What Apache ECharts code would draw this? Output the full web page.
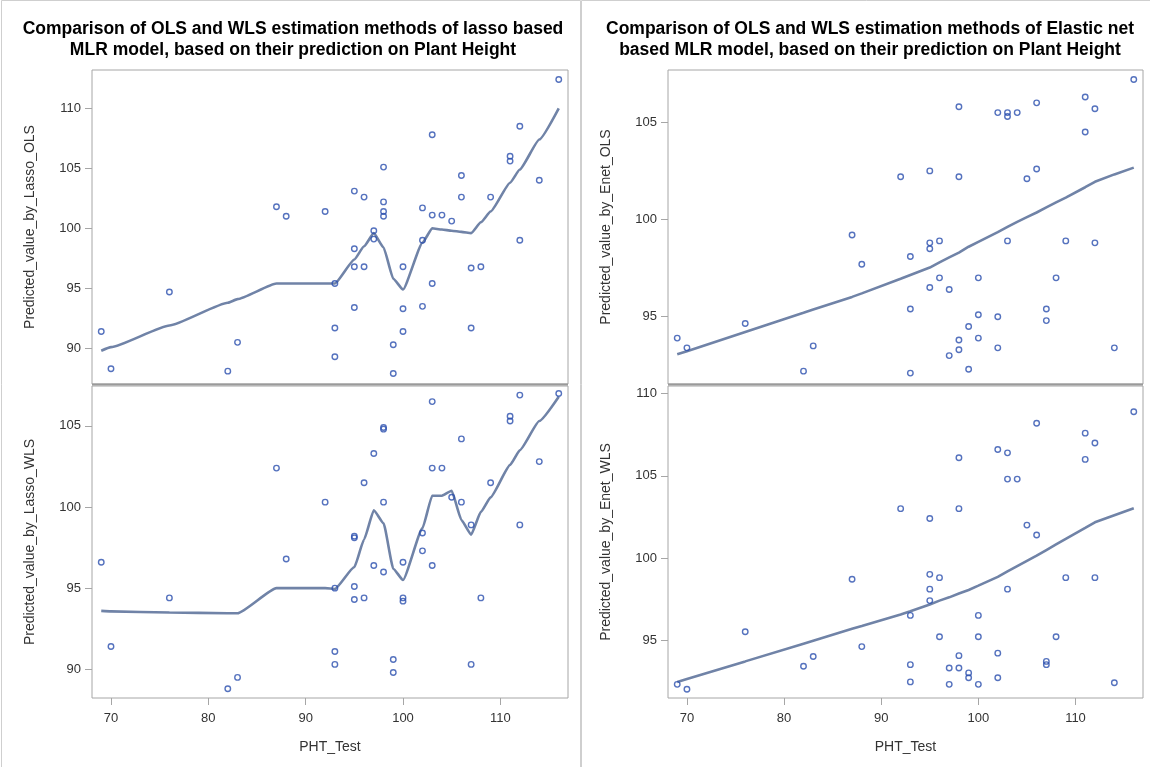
<!DOCTYPE html>
<html>
<head>
<meta charset="utf-8">
<script src="https://cdn.jsdelivr.net/npm/echarts@6/dist/echarts.min.js"></script>
<style>
  html, body { margin: 0; padding: 0; background: #ffffff; }
  #chart { width: 1150px; height: 767px; }
</style>
</head>
<body>
<div id="chart"></div>
<script>
// PHT_Test levels at which the fitted curves are evaluated
const fitX = [69, 70, 76, 82, 83, 87, 88, 92, 93, 95, 96, 97, 98, 99, 100, 102, 103, 104, 105, 106, 107, 108, 109, 111, 112, 114, 116];

// Fitted curves (one value per fitX level)
const lassoOlsFit = [89.8, 90.1, 91.9, 93.8, 94.1, 95.4, 95.4, 95.4, 95.4, 97.4, 98.5, 99.6, 98.4, 95.8, 94.9, 98.8, 100.0, 99.9, 99.8, 99.7, 99.6, 100.5, 101.4, 103.8, 104.9, 107.4, 110.0];
const lassoWlsFit = [93.6, 93.57, 93.5, 93.45, 93.45, 95.0, 95.0, 95.0, 94.95, 96.3, 98.0, 99.8, 99.0, 96.2, 95.5, 98.7, 100.7, 100.7, 101.0, 99.2, 98.3, 99.7, 100.6, 102.6, 103.5, 105.3, 106.8];
const enetOlsFit = [93.07, 93.23, 94.22, 95.2, 95.37, 96.02, 96.2, 96.95, 97.15, 97.53, 97.8, 98.05, 98.3, 98.6, 98.85, 99.35, 99.62, 99.88, 100.12, 100.36, 100.62, 100.88, 101.13, 101.66, 101.94, 102.32, 102.67];
const enetWlsFit = [92.45, 92.63, 93.7, 94.78, 94.96, 95.68, 95.85, 96.55, 96.75, 97.16, 97.4, 97.6, 97.83, 98.05, 98.31, 98.85, 99.18, 99.5, 99.82, 100.14, 100.48, 100.82, 101.16, 101.83, 102.17, 102.6, 103.02];

// Observed PHT_Test vs predicted value, [PHT_Test, predicted]
const lassoOlsPts = [
  [69, 91.4], [70, 88.3], [76, 94.7], [82, 88.1], [83, 90.5], [87, 101.8], [88, 101.0], [92, 101.4],
  [93, 95.4], [93, 91.7], [93, 89.3],
  [95, 103.1], [95, 98.3], [95, 96.8], [95, 93.4],
  [96, 102.6], [96, 96.8],
  [97, 99.8], [97, 99.1],
  [98, 105.1], [98, 102.2], [98, 101.4], [98, 101.0],
  [99, 90.3], [99, 87.9],
  [100, 96.8], [100, 93.3], [100, 91.4],
  [102, 101.7], [102, 99.0], [102, 93.5],
  [103, 107.8], [103, 101.1], [103, 95.4],
  [104, 101.1], [105, 100.6],
  [106, 104.4], [106, 102.6],
  [107, 96.7], [107, 91.7],
  [108, 96.8], [109, 102.6],
  [111, 106.0], [111, 105.6],
  [112, 108.5], [112, 99.0],
  [114, 104.0], [116, 112.4]
];
const lassoWlsPts = [
  [69, 96.6], [70, 91.4], [76, 94.4], [82, 88.8], [83, 89.5], [87, 102.4], [88, 96.8], [92, 100.3],
  [93, 95.0], [93, 91.1], [93, 90.3],
  [95, 98.2], [95, 98.1], [95, 95.1], [95, 94.3],
  [96, 101.5], [96, 94.4],
  [97, 103.3], [97, 96.4],
  [98, 104.9], [98, 104.8], [98, 100.3], [98, 96.0],
  [99, 90.6], [99, 89.8],
  [100, 96.6], [100, 94.4], [100, 94.2],
  [102, 98.4], [102, 97.3],
  [103, 106.5], [103, 102.4], [103, 96.4],
  [104, 102.4], [105, 100.6],
  [106, 104.2], [106, 100.3],
  [107, 98.9], [107, 90.3],
  [108, 94.4], [109, 101.5],
  [111, 105.6], [111, 105.3],
  [112, 106.9], [112, 98.9],
  [114, 102.8], [116, 107.0]
];
const enetOlsPts = [
  [69, 93.9], [70, 93.4], [76, 94.65], [82, 92.2], [83, 93.5], [87, 99.2], [88, 97.7], [92, 102.2],
  [93, 98.1], [93, 95.4], [93, 92.1],
  [95, 102.5], [95, 98.8], [95, 98.5], [95, 96.5],
  [96, 98.9], [96, 97.0],
  [97, 96.4], [97, 93.0],
  [98, 105.8], [98, 102.2], [98, 93.8], [98, 93.3],
  [99, 94.5], [99, 92.3],
  [100, 97.0], [100, 95.1], [100, 93.9],
  [102, 105.5], [102, 95.0], [102, 93.4],
  [103, 105.5], [103, 105.3], [103, 98.9],
  [104, 105.5], [105, 102.1],
  [106, 106.0], [106, 102.6],
  [107, 95.4], [107, 94.8],
  [108, 97.0], [109, 98.9],
  [111, 106.3], [111, 104.5],
  [112, 105.7], [112, 98.8],
  [114, 93.4], [116, 107.2]
];
const enetWlsPts = [
  [69, 92.3], [70, 92.0], [76, 95.5], [82, 93.4], [83, 94.0], [87, 98.7], [88, 94.6], [92, 103.0],
  [93, 96.5], [93, 93.5], [93, 92.45],
  [95, 102.4], [95, 99.0], [95, 98.1], [95, 97.4],
  [96, 98.8], [96, 95.2],
  [97, 93.3], [97, 92.3],
  [98, 106.1], [98, 103.0], [98, 94.05], [98, 93.3],
  [99, 93.0], [99, 92.7],
  [100, 96.5], [100, 95.2], [100, 92.3],
  [102, 106.6], [102, 94.2], [102, 92.7],
  [103, 106.4], [103, 104.8], [103, 98.1],
  [104, 104.8], [105, 102.0],
  [106, 108.2], [106, 101.4],
  [107, 93.7], [107, 93.5],
  [108, 95.2], [109, 98.8],
  [111, 107.6], [111, 106.0],
  [112, 107.0], [112, 98.8],
  [114, 92.4], [116, 108.9]
];

// Tick labels
const xTicks = [70, 80, 90, 100, 110];
const yTicksLassoOls = [90, 95, 100, 105, 110];
const yTicksLassoWls = [90, 95, 100, 105];
const yTicksEnetOls = [95, 100, 105];
const yTicksEnetWls = [95, 100, 105, 110];

// Text
const titleLasso = 'Comparison of OLS and WLS estimation methods of lasso based\nMLR model, based on their prediction on Plant Height';
const titleEnet = 'Comparison of OLS and WLS estimation methods of Elastic net\nbased MLR model, based on their prediction on Plant Height';
const xName = 'PHT_Test';
const yNames = ['Predicted_value_by_Lasso_OLS', 'Predicted_value_by_Lasso_WLS', 'Predicted_value_by_Enet_OLS', 'Predicted_value_by_Enet_WLS'];

// ---- drawing ----
const FONT = '"Liberation Sans", Arial, sans-serif';
const TEXT = '#333333';
const FRAME = '#a6a6a6';
const MARKER = '#2b4fae';
const FITLINE = '#7083a7';

const panels = [
  { grid: { left: 92, top: 70, width: 476, height: 314 }, y: [87.03, 113.19], ticks: yTicksLassoOls, pts: lassoOlsPts, fit: lassoOlsFit, showX: false, smooth: 0.15 },
  { grid: { left: 92, top: 386, width: 476, height: 312 }, y: [88.23, 107.46], ticks: yTicksLassoWls, pts: lassoWlsPts, fit: lassoWlsFit, showX: true, smooth: 0.15 },
  { grid: { left: 668, top: 70, width: 475, height: 314 }, y: [91.54, 107.69], ticks: yTicksEnetOls, pts: enetOlsPts, fit: enetOlsFit, showX: false, smooth: false },
  { grid: { left: 668, top: 386, width: 475, height: 312 }, y: [91.47, 110.47], ticks: yTicksEnetWls, pts: enetWlsPts, fit: enetWlsFit, showX: true, smooth: false }
];

const X_MIN = 68.05, X_MAX = 116.95;

const grid = panels.map(p => Object.assign({
  show: true, borderColor: FRAME, borderWidth: 1, backgroundColor: '#ffffff', containLabel: false
}, p.grid));

const xAxis = panels.map((p, i) => ({
  type: 'value', gridIndex: i, min: X_MIN, max: X_MAX,
  show: p.showX,
  name: p.showX ? xName : '',
  nameLocation: 'middle', nameGap: 42,
  nameTextStyle: { fontFamily: FONT, fontSize: 14, color: TEXT },
  axisLine: { show: false },
  axisTick: { show: true, inside: false, length: 7, customValues: xTicks, lineStyle: { color: FRAME } },
  axisLabel: { show: true, customValues: xTicks, margin: 14, fontFamily: FONT, fontSize: 13, color: TEXT },
  splitLine: { show: false }
}));

const yAxis = panels.map((p, i) => ({
  type: 'value', gridIndex: i, min: p.y[0], max: p.y[1],
  name: yNames[i], nameLocation: 'middle', nameGap: 55, nameRotate: 90,
  nameTextStyle: { fontFamily: FONT, fontSize: 14, color: TEXT },
  axisLine: { show: false },
  axisTick: { show: true, inside: false, length: 7, customValues: p.ticks, lineStyle: { color: FRAME } },
  axisLabel: { show: true, customValues: p.ticks, margin: 11, fontFamily: FONT, fontSize: 13, color: TEXT },
  splitLine: { show: false }
}));

const series = [];
panels.forEach((p, i) => {
  series.push({
    type: 'line', xAxisIndex: i, yAxisIndex: i,
    data: fitX.map((x, k) => [x, p.fit[k]]),
    showSymbol: false, smooth: p.smooth, smoothMonotone: 'x',
    lineStyle: { color: FITLINE, width: 2.6 },
    silent: true, z: 2
  });
  series.push({
    type: 'scatter', xAxisIndex: i, yAxisIndex: i,
    data: p.pts,
    symbol: 'circle', symbolSize: 5.5,
    itemStyle: { color: 'rgba(255,255,255,0)', borderColor: MARKER, borderWidth: 1.4 },
    silent: true, z: 3
  });
});

const graphic = [
  // outer panel frames
  { type: 'rect', shape: { x: 1.5, y: 0.5, width: 579, height: 800 }, style: { fill: 'none', stroke: '#cfcfcf', lineWidth: 1 }, silent: true, z: 0 },
  { type: 'rect', shape: { x: 581.5, y: 0.5, width: 580, height: 800 }, style: { fill: 'none', stroke: '#cfcfcf', lineWidth: 1 }, silent: true, z: 0 },
  // divider between stacked cells
  { type: 'rect', shape: { x: 92, y: 383.5, width: 476, height: 2 }, style: { fill: '#9a9a9a' }, silent: true, z: 10 },
  { type: 'rect', shape: { x: 668, y: 383.5, width: 475, height: 2 }, style: { fill: '#9a9a9a' }, silent: true, z: 10 },
  // titles
  { type: 'text', x: 293, y: 19, style: { text: titleLasso, x: 0, y: 0, align: 'center', verticalAlign: 'top', fontFamily: FONT, fontSize: 17.5, fontWeight: 'bold', lineHeight: 21, fill: '#000000' }, silent: true },
  { type: 'text', x: 870, y: 19, style: { text: titleEnet, x: 0, y: 0, align: 'center', verticalAlign: 'top', fontFamily: FONT, fontSize: 17.5, fontWeight: 'bold', lineHeight: 21, fill: '#000000' }, silent: true }
];

const chart = echarts.init(document.getElementById('chart'), null, { renderer: 'canvas' });
chart.setOption({
  backgroundColor: '#ffffff',
  animation: false,
  grid, xAxis, yAxis, series, graphic
});
</script>
</body>
</html>
